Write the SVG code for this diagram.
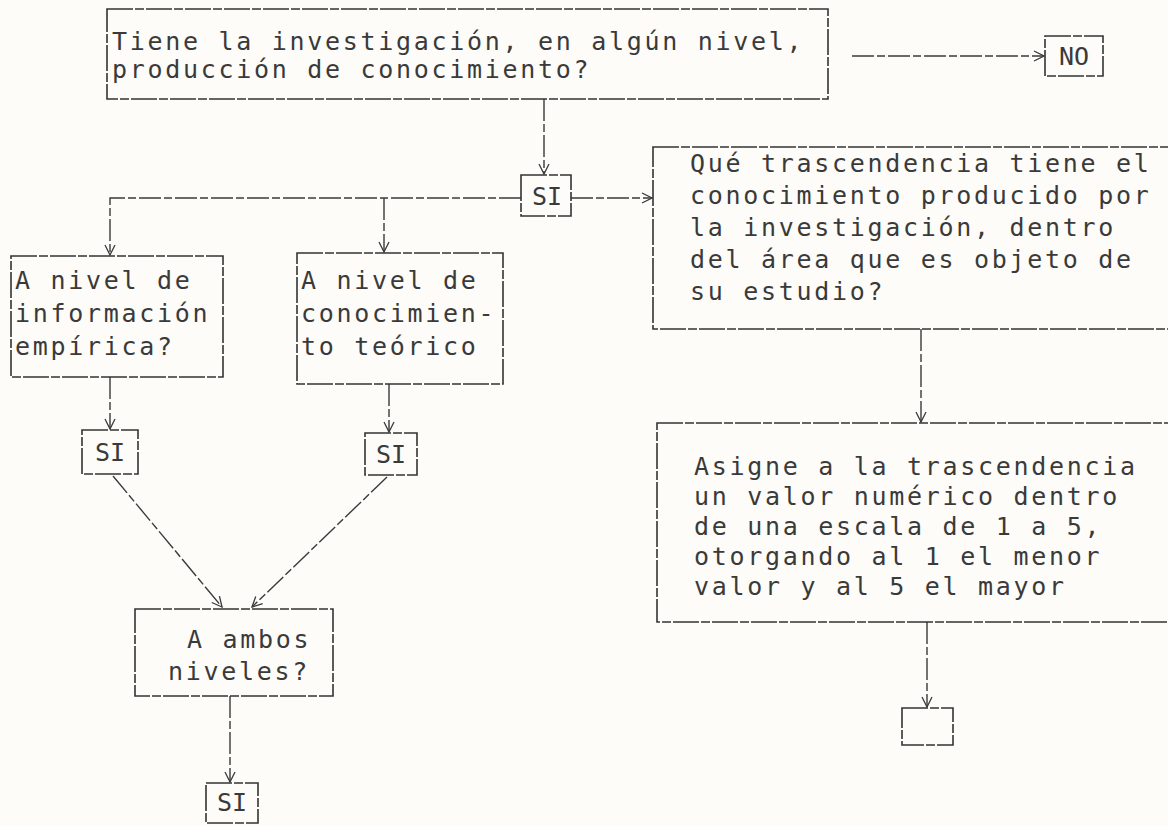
<svg xmlns="http://www.w3.org/2000/svg" width="1168" height="826" viewBox="0 0 1168 826">
<defs>
<marker id="arr" viewBox="0 0 12 12" refX="11" refY="6" markerWidth="12" markerHeight="12" markerUnits="userSpaceOnUse" orient="auto">
<path d="M1,1 L11,6 L1,11" fill="none" stroke="#3a3a3a" stroke-width="1.3"/>
</marker>
<style>
.bx{fill:none;stroke:#333;stroke-width:1.6;stroke-dasharray:26 2 9 2}
.ln{fill:none;stroke:#3a3a3a;stroke-width:1.4;stroke-dasharray:22 3 8 3;marker-end:url(#arr)}
.t{font-family:"DejaVu Sans Mono","Liberation Mono",monospace;font-size:25px;letter-spacing:2.7px;fill:#3a3a3a}
.c{text-anchor:middle;letter-spacing:0}
</style>
</defs>
<rect width="1168" height="826" fill="#fdfcf8"/>
<g id="connectors">
<path class="ln" d="M852,56 H1044"/>
<path class="ln" d="M544,99 V174"/>
<path class="ln" d="M521,198 H110 V255"/>
<path class="ln" d="M384,198 V252"/>
<path class="ln" d="M571,198 H652"/>
<path class="ln" d="M110,377 V429"/>
<path class="ln" d="M389,384 V432"/>
<path class="ln" d="M113,476 L222,607"/>
<path class="ln" d="M387,477 L252,607"/>
<path class="ln" d="M230,696 V782"/>
<path class="ln" d="M921,329 V422"/>
<path class="ln" d="M927,622 V707"/>
</g>
<g id="q1">
<rect class="bx" x="107" y="9" width="721" height="90"/>
<text class="t" x="112" y="50">Tiene la investigación, en algún nivel,</text>
<text class="t" x="112" y="78">producción de conocimiento?</text>
</g>
<g id="no1">
<rect class="bx" x="1045" y="36" width="58" height="40"/>
<text class="t c" x="1074" y="65">NO</text>
</g>
<g id="si1">
<rect class="bx" x="521" y="175" width="50" height="41"/>
<text class="t c" x="547" y="205">SI</text>
</g>
<g id="q2">
<rect class="bx" x="653" y="147" width="530" height="182"/>
<text class="t" x="690" y="172">Qué trascendencia tiene el</text>
<text class="t" x="690" y="204">conocimiento producido por</text>
<text class="t" x="690" y="236">la investigación, dentro</text>
<text class="t" x="690" y="268">del área que es objeto de</text>
<text class="t" x="690" y="300">su estudio?</text>
</g>
<g id="a1">
<rect class="bx" x="657" y="423" width="526" height="199"/>
<text class="t" x="694" y="475">Asigne a la trascendencia</text>
<text class="t" x="694" y="505">un valor numérico dentro</text>
<text class="t" x="694" y="535">de una escala de 1 a 5,</text>
<text class="t" x="694" y="565">otorgando al 1 el menor</text>
<text class="t" x="694" y="595">valor y al 5 el mayor</text>
</g>
<g id="end1">
<rect class="bx" x="902" y="708" width="51" height="37"/>
</g>
<g id="q3">
<rect class="bx" x="11" y="256" width="212" height="121"/>
<text class="t" x="15" y="289">A nivel de</text>
<text class="t" x="15" y="322">información</text>
<text class="t" x="15" y="355">empírica?</text>
</g>
<g id="q4">
<rect class="bx" x="297" y="253" width="206" height="131"/>
<text class="t" x="301" y="289">A nivel de</text>
<text class="t" x="301" y="322">conocimien-</text>
<text class="t" x="301" y="355">to teórico</text>
</g>
<g id="si2">
<rect class="bx" x="82" y="430" width="56" height="44"/>
<text class="t c" x="110" y="461">SI</text>
</g>
<g id="si3">
<rect class="bx" x="365" y="433" width="52" height="42"/>
<text class="t c" x="391" y="463">SI</text>
</g>
<g id="q5">
<rect class="bx" x="135" y="609" width="198" height="87"/>
<text class="t" x="187" y="648">A ambos</text>
<text class="t" x="168" y="680">niveles?</text>
</g>
<g id="si4">
<rect class="bx" x="206" y="783" width="52" height="40"/>
<text class="t c" x="232" y="811">SI</text>
</g>
</svg>
